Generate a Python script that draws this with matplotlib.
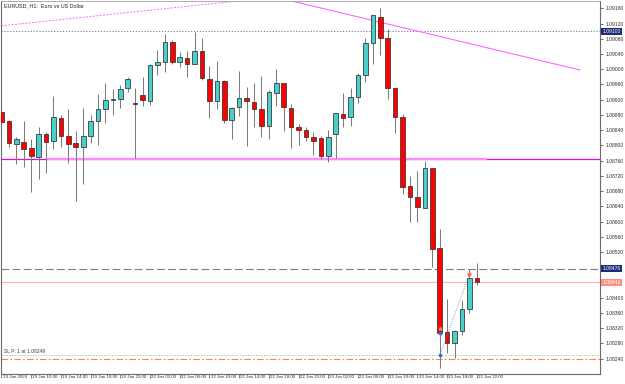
import numpy as np
import matplotlib
matplotlib.use("Agg")
from matplotlib import pyplot as plt

plt.rcParams['font.family'] = ['Liberation Sans', 'DejaVu Sans']

# EURUSD H1 candles, 19 Jan 06:00 .. 23 Jan 22:00
opens = [1.08889, 1.08864, 1.08804, 1.08809, 1.08793, 1.08769, 1.08829, 1.08811, 1.08873, 1.08824,
         1.08806, 1.08795, 1.08825, 1.08863, 1.08895, 1.08920, 1.08923, 1.08950, 1.08911, 1.08932,
         1.08917, 1.09010, 1.09020, 1.09072, 1.09020, 1.09029, 1.09015, 1.09049, 1.08974, 1.08916,
         1.08970, 1.08868, 1.08900, 1.08924, 1.08914, 1.08896, 1.08852, 1.08938, 1.08963, 1.08899,
         1.08849, 1.08840, 1.08823, 1.08819, 1.08773, 1.08829, 1.08883, 1.08874, 1.08926, 1.08984,
         1.09068, 1.09138, 1.09081, 1.08950, 1.08874, 1.08694, 1.08664, 1.08636, 1.08740, 1.08530,
         1.08309, 1.08282, 1.08313, 1.08370, 1.08451]
highs = [1.08893, 1.08867, 1.08823, 1.08864, 1.08818, 1.08848, 1.08835, 1.08929, 1.08880, 1.08896,
         1.08838, 1.08897, 1.08880, 1.08935, 1.08963, 1.08948, 1.08958, 1.08979, 1.08950, 1.08979,
         1.09013, 1.09051, 1.09093, 1.09077, 1.09046, 1.09047, 1.09097, 1.09082, 1.09009, 1.09022,
         1.08972, 1.08902, 1.08995, 1.08953, 1.08963, 1.08981, 1.08945, 1.09000, 1.08965, 1.08909,
         1.08855, 1.08848, 1.08834, 1.08825, 1.08840, 1.08886, 1.08938, 1.08950, 1.08989, 1.09081,
         1.09142, 1.09161, 1.09105, 1.08953, 1.08882, 1.08720, 1.08733, 1.08758, 1.08740, 1.08581,
         1.08397, 1.08315, 1.08394, 1.08475, 1.08490]
lows = [1.08854, 1.08795, 1.08751, 1.08743, 1.08677, 1.08713, 1.08728, 1.08790, 1.08797, 1.08753,
        1.08654, 1.08698, 1.08806, 1.08801, 1.08858, 1.08879, 1.08899, 1.08939, 1.08768, 1.08903,
        1.08907, 1.08985, 1.08993, 1.09014, 1.09007, 1.08980, 1.09015, 1.08972, 1.08871, 1.08896,
        1.08858, 1.08816, 1.08878, 1.08798, 1.08849, 1.08822, 1.08818, 1.08904, 1.08838, 1.08793,
        1.08802, 1.08812, 1.08774, 1.08764, 1.08757, 1.08767, 1.08848, 1.08852, 1.08911, 1.08967,
        1.09014, 1.09037, 1.08923, 1.08833, 1.08672, 1.08600, 1.08600, 1.08636, 1.08482, 1.08215,
        1.08256, 1.08241, 1.08302, 1.08359, 1.08433]
closes = [1.08862, 1.08807, 1.08818, 1.08791, 1.08772, 1.08829, 1.08809, 1.08874, 1.08825, 1.08803,
          1.08795, 1.08824, 1.08864, 1.08895, 1.08920, 1.08922, 1.08949, 1.08974, 1.08910, 1.08920,
          1.09011, 1.09018, 1.09071, 1.09020, 1.09031, 1.09015, 1.09047, 1.08976, 1.08917, 1.08970,
          1.08868, 1.08897, 1.08924, 1.08917, 1.08896, 1.08852, 1.08940, 1.08963, 1.08900, 1.08848,
          1.08840, 1.08823, 1.08812, 1.08773, 1.08823, 1.08884, 1.08873, 1.08926, 1.08984, 1.09068,
          1.09142, 1.09081, 1.08950, 1.08874, 1.08692, 1.08664, 1.08639, 1.08740, 1.08528, 1.08307,
          1.08280, 1.08313, 1.08370, 1.08451, 1.08441]

time_labels = ["19 Jan 2024", "19 Jan 10:00", "19 Jan 14:00", "19 Jan 18:00", "19 Jan 22:00",
               "22 Jan 02:00", "22 Jan 06:00", "22 Jan 10:00", "22 Jan 14:00", "22 Jan 18:00",
               "22 Jan 22:00", "23 Jan 02:00", "23 Jan 06:00", "23 Jan 10:00", "23 Jan 14:00",
               "23 Jan 18:00", "23 Jan 22:00"]
price_ticks = [1.08240 + 0.0004 * k for k in range(24)]

# levels / objects
level_alert = 1.09100
level_ask = 1.08476
level_bid = 1.08441
level_entry = 1.08249
level_sl = 1.08240
hline_magenta = 1.08765
trend_up = [(0, 1.09114), (40, 1.09196)]
trend_down = [(38.45, 1.09182), (77.9, 1.08998)]
trade_open = (59, 1.08249)
trade_close = (63, 1.08462)

BULL = "#48d1cc"
BEAR = "#ff0000"
EDGE = "#3c3c3c"
WICK = "#7c7c7c"
FS = 3.6
FSX = 3.2

fig = plt.figure(figsize=(6.25, 3.84), dpi=100)
L, R, T, B = 1.5, 600, 1, 374
ax = fig.add_axes([L / 625, 1 - B / 384, (R - L) / 625, (B - T) / 384])

bar_px = 7.43
x0_px = 1.3
ax.set_xlim((L - x0_px) / bar_px, (R - x0_px) / bar_px)
ppx = 0.000026256
ax.set_ylim(1.09160 - (B - 8.3) * ppx, 1.09160 - (T - 8.3) * ppx)

o = np.array(opens); h = np.array(highs); l = np.array(lows); c = np.array(closes)
idx = np.arange(len(o))
up = c >= o
ax.vlines(idx, l, h, color=WICK, lw=0.75, zorder=2)
body_lo = np.minimum(o, c)
body_h = np.maximum(np.abs(c - o), 0.000012)
ax.bar(idx[up], body_h[up], bottom=body_lo[up], width=0.62, color=BULL,
       edgecolor=EDGE, lw=0.6, zorder=3)
ax.bar(idx[~up], body_h[~up], bottom=body_lo[~up], width=0.62, color=BEAR,
       edgecolor=EDGE, lw=0.6, zorder=3)

# horizontal levels
ax.axhline(level_alert, color="#6a6a9a", lw=0.6, ls=(0, (1.5, 2)), zorder=1)
ax.axhline(level_ask, color="#7a7a9c", lw=0.8, ls=(0, (7, 3)), zorder=1)
ax.axhline(level_bid, color="#ffb2a6", lw=0.8, zorder=1)
ax.axhline(level_entry, color="#8fd08f", lw=0.7, ls=(0, (1.2, 1.5)), zorder=1)
ax.axhline(level_sl, color="#ff7f50", lw=0.8, ls=(0, (6, 2, 1.5, 2)), zorder=1)
ax.axhline(hline_magenta, color="#ee00ee", lw=0.9, zorder=1)
ax.plot([(46 - x0_px) / bar_px, (487 - x0_px) / bar_px], [hline_magenta] * 2,
        color="#ff88ff", lw=1.6, zorder=1, solid_capstyle="butt")

# trend lines
ax.plot([p[0] for p in trend_up], [p[1] for p in trend_up], color="#ff66ff",
        lw=0.7, ls=(0, (2, 1.5)), zorder=1)
ax.plot([p[0] for p in trend_down], [p[1] for p in trend_down], color="#ff66ff",
        lw=0.8, zorder=1)

# trade
ax.plot([trade_open[0], trade_close[0]], [trade_open[1], trade_close[1]],
        color="#5b84c8", lw=0.6, ls=(0, (1, 1.5)), zorder=4)
ax.plot(*trade_open, marker="s", ms=2, color="#2f6fd0", zorder=5)
ax.plot(*trade_close, marker="o", ms=2, color="#ff6a4a", zorder=5)
ax.plot(59, 1.08321, marker="^", ms=2, color="#ff8a6a", zorder=5)
ax.plot(59, 1.08308, marker="s", ms=1.6, color="#2f6fd0", zorder=5)
ax.text(0.35, level_entry + 0.00003, "SL P: 1 at 1.08249", fontsize=FS,
        color="#404040", va="bottom", ha="left")

# axes styling
for s in ["left", "bottom", "right"]:
    ax.spines[s].set_color("#6a6a6a")
    ax.spines[s].set_linewidth(0.8)
ax.spines["top"].set_color("#a0a0a0")
ax.spines["top"].set_linewidth(0.6)

# tick labels hidden where the highlighted price boxes sit
hidden = {"1.08480", "1.08440"}
ax.yaxis.tick_right()
ax.set_yticks(price_ticks)
ax.set_yticklabels(["" if ("%.5f" % v) in hidden else "%.5f" % v for v in price_ticks])
ax.tick_params(axis="y", length=2.5, width=0.5, pad=1.2, labelsize=FS,
               colors="#303030")

tick_idx = np.arange(0, 65, 4)
ax.set_xticks(tick_idx)
ax.set_xticklabels([])
ax.tick_params(axis="x", length=3, width=0.5, colors="#505050")
for i, lab in zip(tick_idx, time_labels):
    ax.text(i + 0.15, -0.009, lab, transform=ax.get_xaxis_transform(),
            fontsize=FSX, color="#303030", ha="left", va="center", clip_on=False)

# highlighted price labels on the axis
for val, txt, bg in [(level_alert, "1.09100", "#1f2a78"),
                     (level_ask, "1.08476", "#1f2a78"),
                     (level_bid, "1.08441", "#ff8f80")]:
    ax.text(1.004, val, txt, transform=ax.get_yaxis_transform(), fontsize=FS,
            color="white", ha="left", va="center", clip_on=False,
            bbox=dict(boxstyle="square,pad=0.2", fc=bg, ec="none"))

fig.text(4 / 625, 1 - 6 / 384, "EURUSD, H1:  Euro vs US Dollar", fontsize=3.9,
         color="#202020", ha="left", va="center")

fig.savefig("out.png", dpi=100, facecolor="white")
